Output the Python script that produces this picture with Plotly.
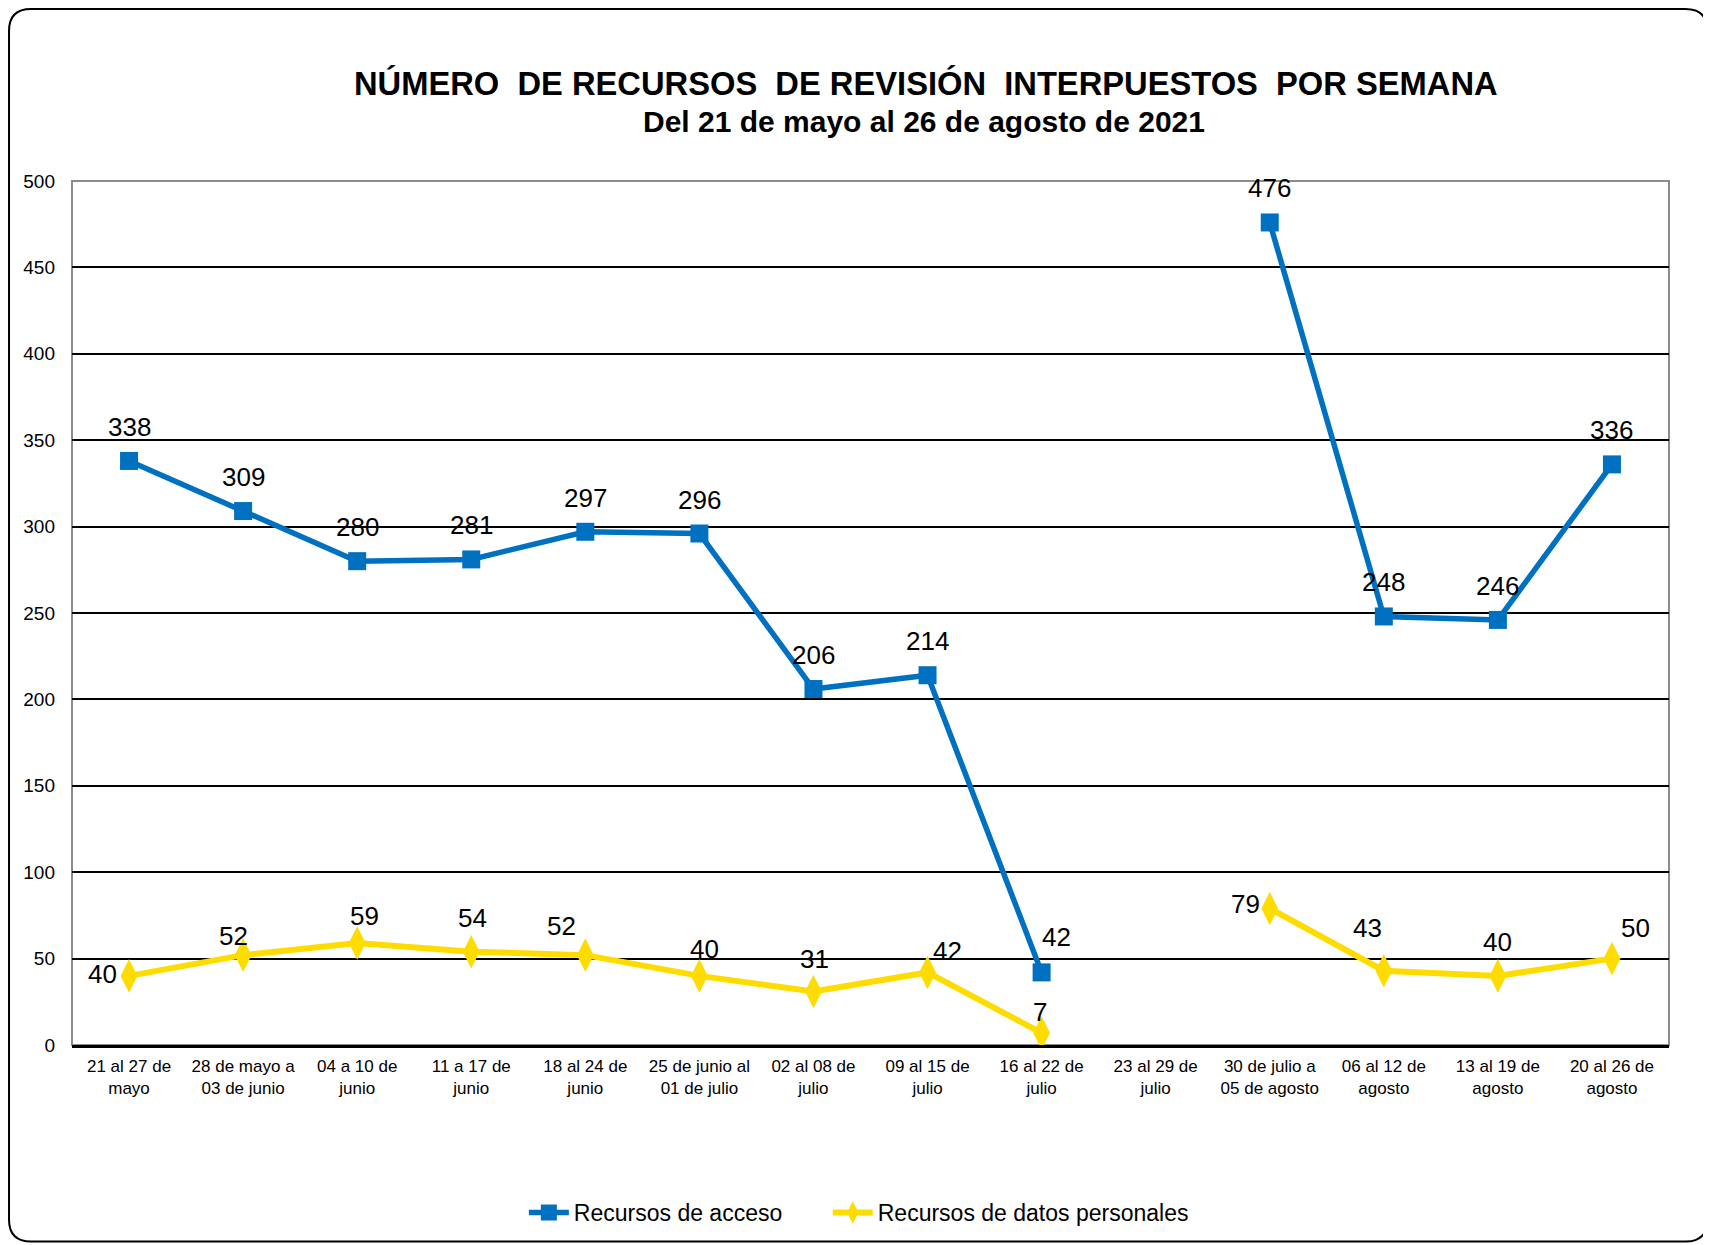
import plotly.graph_objects as go

categories = [
    "21 al 27 de<br>mayo", "28 de mayo a<br>03 de junio", "04 a 10 de<br>junio",
    "11 a 17 de<br>junio", "18 al 24 de<br>junio", "25 de junio al<br>01 de julio",
    "02 al 08 de<br>julio", "09 al 15 de<br>julio", "16 al 22 de<br>julio",
    "23 al 29 de<br>julio", "30 de julio a<br>05 de agosto", "06 al 12 de<br>agosto",
    "13 al 19 de<br>agosto", "20 al 26 de<br>agosto",
]
acceso = [338, 309, 280, 281, 297, 296, 206, 214, 42, None, 476, 248, 246, 336]
datos = [40, 52, 59, 54, 52, 40, 31, 42, 7, None, 79, 43, 40, 50]
ytick_vals = [0, 50, 100, 150, 200, 250, 300, 350, 400, 450, 500]

# label offsets in pixels (style only)
acceso_off = [(0, 34)] * 8 + [(15, 35), None] + [(0, 34)] * 4
datos_off = [(-27, 2), (-10, 19), (7, 27), (1, 34), (-24, 29), (5, 27), (1, 32),
             (20, 21), (-2, 21), None, (-24, 4), (-16, 43), (0, 34), (24, 31)]

BLUE = "#0070C0"
YELLOW = "#FFDC00"
FONT = "Arial, Liberation Sans, sans-serif"

fig = go.Figure()
fig.add_trace(go.Scatter(
    x=categories, y=acceso, name="Recursos de acceso", mode="lines+markers",
    line=dict(color=BLUE, width=5.5), marker=dict(symbol="square", size=18, color=BLUE),
    connectgaps=False, legend="legend",
))
fig.add_trace(go.Scatter(
    x=categories, y=datos, name="Recursos de datos personales", mode="lines+markers",
    line=dict(color=YELLOW, width=6), marker=dict(symbol="diamond-tall", size=24, color=YELLOW),
    connectgaps=False, legend="legend2",
))

annotations = []
for series, offs in ((acceso, acceso_off), (datos, datos_off)):
    for c, v, o in zip(categories, series, offs):
        if v is None:
            continue
        annotations.append(dict(
            x=c, y=v, xref="x", yref="y", text=str(v), showarrow=False,
            xshift=o[0], yshift=o[1], font=dict(family=FONT, size=26, color="#000000"),
            xanchor="center", yanchor="middle",
        ))

# page offset of the figure inside the browser page (body margin)
OFF = 8
# Plot-area geometry in page px
L, R, T, B = 72, 1669.5, 181, 1045.4
W, H = R - L, B - T
FW, FH = 1711 - OFF, 1245 - OFF

def px(xp):
    return (xp - L) / W

def py(yp):
    return (B - yp) / H

# Titles
annotations.append(dict(
    x=px(926), y=py(83), xref="paper", yref="paper", showarrow=False,
    text="<b>NÚMERO\u00a0 DE RECURSOS\u00a0 DE REVISIÓN\u00a0 INTERPUESTOS\u00a0 POR SEMANA</b>",
    font=dict(family=FONT, size=32.7, color="#000000"), xanchor="center", yanchor="middle",
))
annotations.append(dict(
    x=px(924), y=py(121), xref="paper", yref="paper", showarrow=False,
    text="<b>Del 21 de mayo al 26 de agosto de 2021</b>",
    font=dict(family=FONT, size=30, color="#000000"), xanchor="center", yanchor="middle",
))

x0, x1, y0, y1, r = OFF + 1, OFF + FW - 3, OFF + 1, OFF + FH - 3, 22
path = (
    f"M {px(x0 + r)} {py(y0)} L {px(x1 - r)} {py(y0)} "
    f"Q {px(x1)} {py(y0)} {px(x1)} {py(y0 + r)} L {px(x1)} {py(y1 - r)} "
    f"Q {px(x1)} {py(y1)} {px(x1 - r)} {py(y1)} L {px(x0 + r)} {py(y1)} "
    f"Q {px(x0)} {py(y1)} {px(x0)} {py(y1 - r)} L {px(x0)} {py(y0 + r)} "
    f"Q {px(x0)} {py(y0)} {px(x0 + r)} {py(y0)} Z"
)

shapes = [
    dict(type="path", path=path, xref="paper", yref="paper",
         line=dict(color="#000000", width=2), layer="below"),
    dict(type="rect", x0=0, x1=1, y0=0, y1=1, xref="paper", yref="paper",
         line=dict(color="#8C8C8C", width=2), layer="between"),
]

legend_common = dict(orientation="h", yanchor="middle", xanchor="left",
                     font=dict(family=FONT, size=23, color="#000000"), itemwidth=40,
                     bgcolor="rgba(0,0,0,0)", borderwidth=0)

fig.update_layout(
    width=FW, height=FH,
    paper_bgcolor="white", plot_bgcolor="white",
    margin=dict(l=L - OFF, r=OFF + FW - R, t=T - OFF, b=OFF + FH - B, autoexpand=False),
    showlegend=True,
    legend=dict(x=px(524), y=py(1213), **legend_common),
    legend2=dict(x=px(828), y=py(1213), **legend_common),
    annotations=annotations,
    shapes=shapes,
    font=dict(family=FONT, color="#000000"),
)
fig.update_xaxes(
    type="category", range=[-0.5, 13.5], showgrid=False,
    showline=True, linecolor="#000000", linewidth=2.5,
    ticks="", tickfont=dict(family=FONT, size=17, color="#000000"),
    ticklabelstandoff=4, tickangle=0,
)
fig.update_yaxes(
    range=[0, 500], tickvals=ytick_vals, ticktext=[str(v) for v in ytick_vals],
    showgrid=True, gridcolor="#000000", gridwidth=1.5,
    zeroline=False, showline=False, ticks="",
    tickfont=dict(family=FONT, size=19, color="#000000"), ticklabelstandoff=16,
)

fig.write_html("out.html")
